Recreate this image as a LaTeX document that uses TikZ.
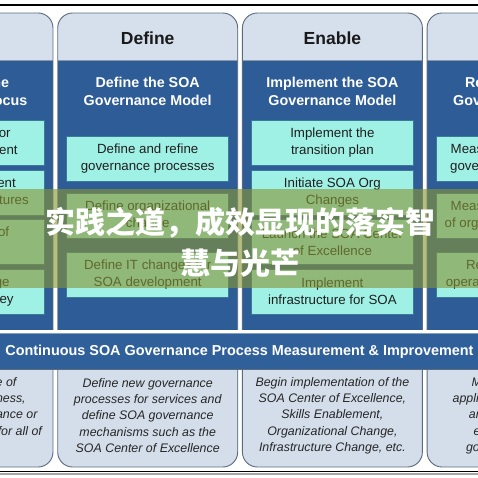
\documentclass[tikz,border=0pt]{standalone}
\usepackage{fontspec}
\setmainfont{Liberation Sans}
\newfontfamily\cjk{Noto Sans CJK SC}
\definecolor{colblue}{RGB}{46,92,150}
\definecolor{bandblue}{RGB}{48,96,154}
\definecolor{hdrfill}{RGB}{214,224,236}
\definecolor{lowfill}{RGB}{211,222,234}
\definecolor{frame}{RGB}{92,108,128}
\definecolor{boxcyan}{RGB}{160,241,229}
\definecolor{boxedge}{RGB}{58,122,150}
\definecolor{ovl}{RGB}{135,150,55}
\begin{document}
\begin{tikzpicture}[x=1pt,y=-1pt,
  hdrtext/.style={font=\fontsize{17.5}{20}\selectfont\bfseries, text=black!90, inner sep=0},
  ttl/.style={font=\fontsize{14.3}{18}\selectfont\bfseries, text=white, align=center, inner sep=0},
  cbox/.style={draw=boxedge, line width=0.9pt, fill=boxcyan, minimum width=162pt, minimum height=45pt, inner sep=0, align=center, font=\fontsize{13.3}{17}\selectfont, text=black!88},
  lowtext/.style={font=\fontsize{12.4}{16.3}\selectfont\itshape, text=black!85, align=center, inner sep=0},
  bandtext/.style={font=\fontsize{14.4}{16}\selectfont\bfseries, text=white, inner sep=0},
  cntext/.style={font=\cjk\bfseries\fontsize{30}{41}\selectfont, text=white, align=center, inner sep=0}
]
\useasboundingbox (0,0) rectangle (478,478);
\clip (0,0) rectangle (478,478);
\fill[white] (0,0) rectangle (478,478);

% columns
\foreach \L in {-127,57.7,242.4,427.1} {
  \begin{scope}
    \clip[rounded corners=15pt] (\L,13) rectangle (\L+180,467);
    \fill[colblue] (\L,13) rectangle (\L+180,467);
    \fill[hdrfill] (\L,13) rectangle (\L+180,60);
    \draw[frame!70, line width=0.6pt] (\L,60) -- (\L+180,60);
    \fill[lowfill] (\L,369) rectangle (\L+180,467);
  \end{scope}
  \draw[frame, line width=0.9pt, rounded corners=15pt] (\L,13) rectangle (\L+180,467);
}

% band
\fill[white] (0,330) rectangle (478,333);
\draw[bandblue!60!white, line width=0.8pt, fill=bandblue] (-2,333) rectangle (480,369);
\draw[frame, line width=0.8pt] (-2,369) -- (480,369);
\node[bandtext] (band) at (239.5,351.5) {Continuous SOA Governance Process Measurement \& Improvement};

% headers
\node[hdrtext] (hB) at (147.7,38) {Define};
\node[hdrtext] (hC) at (332.4,38) {Enable};

% titles
\node[ttl] (tA) at (-37,91) {Plan \& Define\\Governance Focus};
\node[ttl] (tB) at (147.7,91) {Define the SOA\\Governance Model};
\node[ttl] (tC) at (332.4,91) {Implement the SOA\\Governance Model};
\node[ttl] (tD) at (517.1,91) {Refine the SOA\\Governance Model};

% left column boxes
\node[cbox] (a1) at (-37,142.5) {Assess need for\\SOA management};
\node[cbox] (a2) at (-37,192.5) {Document current\\governance structures};
\node[cbox] (a3) at (-37,242) {Define scope of\\governance};
\node[cbox] (a4) at (-37,291.5) {Plan for change\\and SOA journey};

% define boxes
\node[cbox] (b1) at (147.7,158.5) {Define and refine\\governance processes};
\node[cbox] (b2) at (147.7,215.5) {Define organizational\\change};
\node[cbox] (b3) at (147.7,274.5) {Define IT changes for\\SOA development};

% enable boxes
\node[cbox] (c1) at (332.4,142.5) {Implement the\\transition plan};
\node[cbox] (c2) at (332.4,192.5) {Initiate SOA Org\\Changes};
\node[cbox] (c3) at (332.4,242) {Launch the SOA Center\\of Excellence};
\node[cbox] (c4) at (332.4,291.5) {Implement\\infrastructure for SOA};

% right boxes
\node[cbox] (d1) at (517.1,158.5) {Measure effectiveness\\governance processes};
\node[cbox] (d2) at (517.1,215.5) {Measure effectiveness\\of organizational change};
\node[cbox] (d3) at (517.1,274.5) {Refine the IT and\\operational environment};

% lower texts
\node[lowtext] (lA) at (-37,407.5) {Define the scope of\\its business readiness,\\and existing governance or\\a governance vision for all of};
\node[lowtext] (lB) at (147.7,415.5) {Define new governance\\processes for services and\\define SOA governance\\mechanisms such as the\\SOA Center of Excellence};
\node[lowtext] (lC) at (332.4,415.5) {Begin implementation of the\\SOA Center of Excellence,\\Skills Enablement,\\Organizational Change,\\Infrastructure Change, etc.};
\node[lowtext] (lD) at (517.1,415.5) {Measure service\\applications, processes\\and infrastructure\\evaluate overall\\governance model};

% frame lines
\draw[black, line width=1.4pt] (0,5) -- (478,5);
\draw[black, line width=1.4pt] (0,471.5) -- (478,471.5);
\draw[black!35, line width=1.5pt] (0,474) -- (478,474);

% overlay
\fill[ovl, opacity=0.62] (0,189) rectangle (478,288);
\node[cntext] (cn) at (240,242) {实践之道，成效显现的落实智\\慧与光芒};
\end{tikzpicture}
\end{document}
